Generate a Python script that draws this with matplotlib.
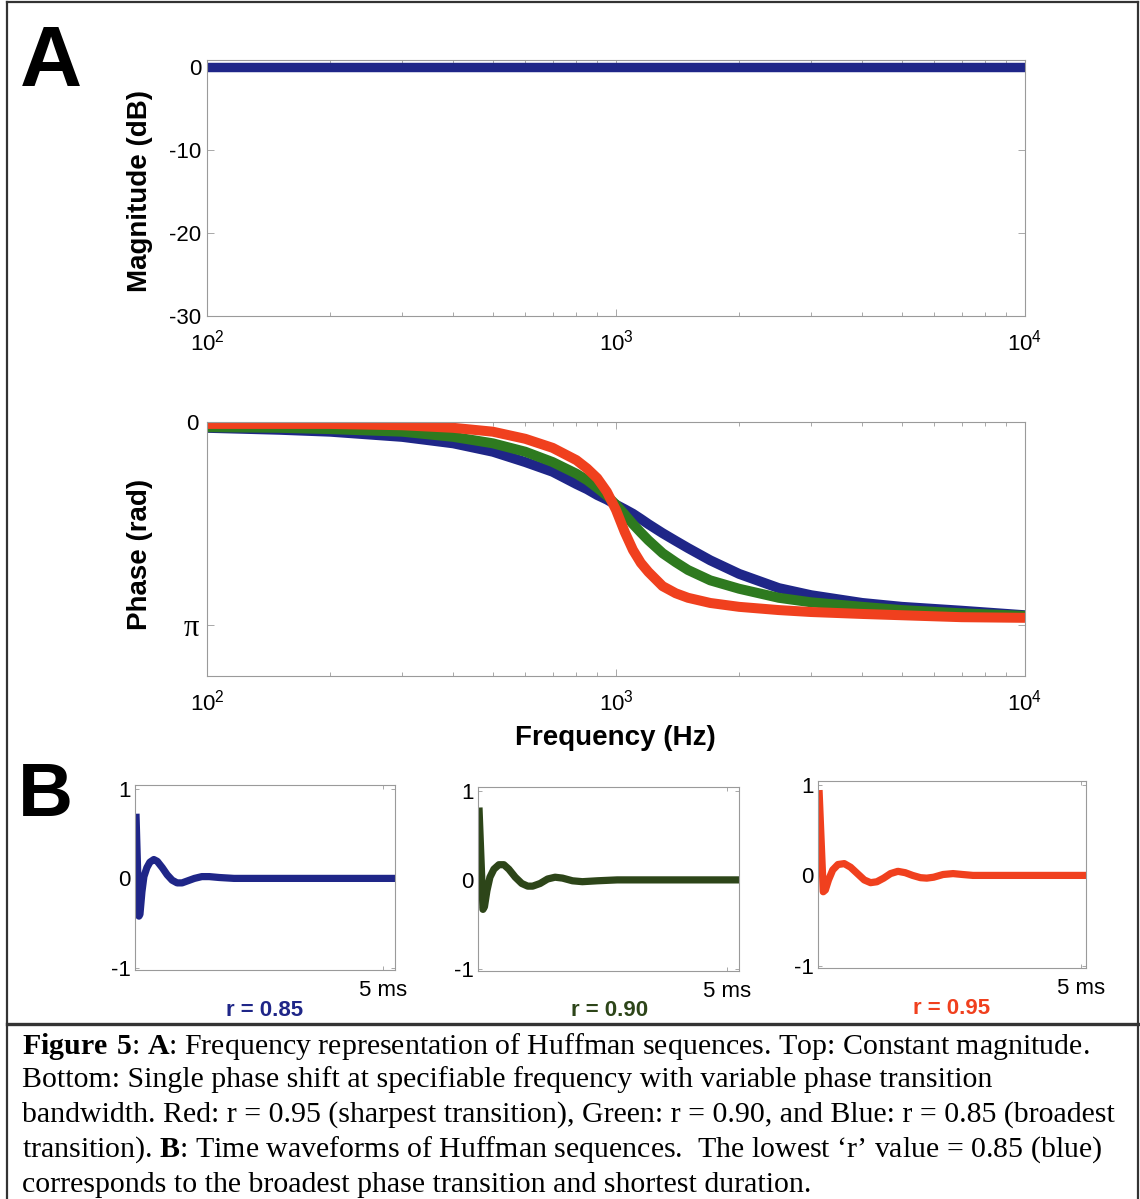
import matplotlib.pyplot as plt
from matplotlib.lines import Line2D

# --- data ---
freq_mag = [100, 10000]
mag_db = [0, 0]

freq = [100, 150, 200, 300, 400, 500, 600, 700, 800, 850, 900, 950, 1000, 1050,
        1100, 1150, 1200, 1300, 1400, 1500, 1700, 2000, 2500, 3000, 4000, 5000,
        7000, 10000]
phase_blue = [-0.09, -0.12, -0.15, -0.23, -0.33, -0.46, -0.62, -0.77, -0.96, -1.04,
              -1.13, -1.20, -1.28, -1.35, -1.42, -1.50, -1.58, -1.72, -1.84, -1.95,
              -2.14, -2.35, -2.57, -2.68, -2.80, -2.86, -2.92, -2.99]
phase_green = [-0.08, -0.09, -0.11, -0.15, -0.23, -0.33, -0.46, -0.62, -0.80, -0.90,
               -1.02, -1.14, -1.28, -1.43, -1.58, -1.71, -1.83, -2.03, -2.17, -2.29,
               -2.45, -2.58, -2.72, -2.79, -2.86, -2.91, -2.96, -3.00]
phase_red = [-0.03, -0.03, -0.03, -0.05, -0.09, -0.15, -0.26, -0.40, -0.59, -0.72,
             -0.87, -1.08, -1.36, -1.70, -1.98, -2.18, -2.32, -2.54, -2.65, -2.72,
             -2.80, -2.86, -2.91, -2.94, -2.97, -2.99, -3.02, -3.03]

t_blue = [0.02, 0.08, 0.10, 0.14, 0.18, 0.24, 0.30, 0.38, 0.45, 0.55, 0.65, 0.75,
          0.85, 0.95, 1.05, 1.20, 1.35, 1.50, 1.70, 2.0, 5.25]
w_blue = [0.72, -0.42, -0.40, -0.15, 0.02, 0.12, 0.18, 0.21, 0.19, 0.12, 0.04, -0.02,
          -0.05, -0.05, -0.03, 0.0, 0.02, 0.02, 0.01, 0.0, 0.0]

t_green = [0.02, 0.10, 0.13, 0.18, 0.24, 0.32, 0.42, 0.52, 0.62, 0.75, 0.88, 1.0,
           1.1, 1.25, 1.4, 1.55, 1.7, 1.9, 2.1, 2.4, 2.8, 5.25]
w_green = [0.81, -0.33, -0.30, -0.12, 0.03, 0.12, 0.17, 0.17, 0.12, 0.03, -0.04, -0.07,
           -0.07, -0.04, 0.01, 0.03, 0.02, -0.01, -0.02, -0.01, 0.0, 0.0]

t_red = [0.02, 0.10, 0.14, 0.20, 0.28, 0.38, 0.50, 0.62, 0.75, 0.88, 1.0, 1.12, 1.25,
         1.38, 1.52, 1.66, 1.80, 1.95, 2.07, 2.2, 2.38, 2.57, 2.75, 2.95, 5.1]
w_red = [0.94, -0.18, -0.16, -0.05, 0.06, 0.12, 0.13, 0.09, 0.02, -0.05, -0.08, -0.07,
         -0.03, 0.02, 0.045, 0.03, 0.0, -0.025, -0.03, -0.02, 0.01, 0.02, 0.01, 0.0, 0.0]

r_labels = ["r = 0.85", "r = 0.90", "r = 0.95"]

C_BLUE = "#1f2688"
C_GREEN = "#2e7a1f"
C_RED = "#f0401e"
C_DKGREEN = "#2d4519"
AX_GREY = "#9a9a9a"

plt.rcParams["font.family"] = ["Liberation Sans", "DejaVu Sans"]
plt.rcParams["mathtext.fontset"] = "custom"
plt.rcParams["mathtext.rm"] = "Liberation Sans"
plt.rcParams["mathtext.bf"] = "Liberation Serif:bold"

W, H = 1140, 1199
fig = plt.figure(figsize=(W / 100, H / 100), dpi=100)


def box(left, top, right, bottom):
    return [left / W, 1 - bottom / H, (right - left) / W, (bottom - top) / H]


def style_axes(ax, size=16):
    for s in ax.spines.values():
        s.set_color(AX_GREY)
        s.set_linewidth(0.8)
    ax.tick_params(which="both", direction="in", top=True, right=True,
                   color=AX_GREY, labelsize=size, width=0.6)
    ax.tick_params(which="major", length=5)
    ax.tick_params(which="minor", length=3)


# --- A: magnitude ---
ax_mag = fig.add_axes(box(207, 60, 1025, 316))
ax_mag.semilogx(freq_mag, mag_db, color=C_BLUE, lw=6.8, solid_capstyle="butt")
ax_mag.set_xlim(100, 10000)
ax_mag.set_ylim(-30, 0.8)
ax_mag.set_yticks([0, -10, -20, -30])
ax_mag.set_yticklabels(["0", "-10", "-20", "-30"])
ax_mag.set_xticks([100, 1000, 10000])
ax_mag.set_xticklabels([r"$10^{2}$", r"$10^{3}$", r"$10^{4}$"])
style_axes(ax_mag)
ax_mag.tick_params(axis="x", pad=10)
ax_mag.tick_params(axis="y", pad=4)

# --- A: phase ---
ax_ph = fig.add_axes(box(207, 422, 1025, 676))
ax_ph.semilogx(freq, phase_blue, color=C_BLUE, lw=7.2, solid_capstyle="butt")
ax_ph.semilogx(freq, phase_green, color=C_GREEN, lw=7.2, solid_capstyle="butt")
ax_ph.semilogx(freq, phase_red, color=C_RED, lw=7.2, solid_capstyle="butt")
ax_ph.set_xlim(100, 10000)
ax_ph.set_ylim(-3.93, 0)
ax_ph.set_yticks([-3.14159, 0])
ax_ph.set_yticklabels(["π", "0"])
ax_ph.set_xticks([100, 1000, 10000])
ax_ph.set_xticklabels([r"$10^{2}$", r"$10^{3}$", r"$10^{4}$"])
style_axes(ax_ph)
ax_ph.tick_params(axis="x", pad=10)
ax_ph.tick_params(axis="y", pad=6)
pi_lab = ax_ph.get_yticklabels()[0]
pi_lab.set_fontfamily("Liberation Serif")
pi_lab.set_fontsize(22)

fig.text(140 / W, 1 - 191 / H, "Magnitude (dB)", rotation=90, fontsize=20,
         fontweight="bold", ha="center", va="center")
fig.text(140 / W, 1 - 554 / H, "Phase (rad)", rotation=90, fontsize=20,
         fontweight="bold", ha="center", va="center")
fig.text(615 / W, 1 - 738 / H, "Frequency (Hz)", fontsize=20,
         fontweight="bold", ha="center", va="center")

# --- B: time waveforms ---
b_boxes = [box(135, 785, 395, 970), box(478, 787, 739, 971), box(818, 781, 1086, 968)]
b_series = [(t_blue, w_blue, C_BLUE), (t_green, w_green, C_DKGREEN), (t_red, w_red, C_RED)]
b_xmax = [5.25, 5.25, 5.1]
label_xy = [(265, 1010), (610, 1011), (952, 1008)]

for rect, (tt, ww, col), xmax, lab, (lx, ly) in zip(b_boxes, b_series, b_xmax, r_labels, label_xy):
    ax = fig.add_axes(rect)
    ax.plot(tt, ww, color=col, lw=5.2, solid_capstyle="butt", solid_joinstyle="round")
    ax.set_xlim(0, xmax)
    ax.set_ylim(-1.02, 1.04)
    ax.set_yticks([-1, 0, 1])
    ax.set_yticklabels(["-1", "0", "1"])
    ax.set_xticks([5])
    ax.set_xticklabels(["5 ms"])
    style_axes(ax)
    ax.tick_params(which="major", length=3)
    ax.tick_params(axis="y", pad=3)
    ax.tick_params(axis="x", pad=7)
    fig.text(lx / W, 1 - ly / H, lab, color=col, fontsize=16, fontweight="bold",
             ha="center", va="center")

# panel letters
fig.text(51 / W, 1 - 64 / H, "A", fontsize=62, fontweight="bold", ha="center", va="center")
fig.text(45 / W, 1 - 797 / H, "B", fontsize=55, fontweight="bold", ha="center", va="center")

# frame and caption separator
frame = dict(color="#333333", lw=1.6, transform=fig.transFigure)
fig.add_artist(Line2D([7 / W, 7 / W], [0, 1 - 2 / H], **frame))
fig.add_artist(Line2D([1138 / W, 1138 / W], [0, 1 - 2 / H], **frame))
fig.add_artist(Line2D([7 / W, 1138 / W], [1 - 2 / H, 1 - 2 / H], **frame))
fig.add_artist(Line2D([7 / W, 1138 / W], [1 - 1024 / H, 1 - 1024 / H],
                      color="#333333", lw=2.4, transform=fig.transFigure))

caption = [
    r"$\mathbf{Figure\ 5}$: $\mathbf{A}$: Frequency representation of Huffman sequences. Top: Constant magnitude.",
    "Bottom: Single phase shift at specifiable frequency with variable phase transition",
    "bandwidth. Red: r = 0.95 (sharpest transition), Green: r = 0.90, and Blue: r = 0.85 (broadest",
    r"transition). $\mathbf{B}$: Time waveforms of Huffman sequences.  The lowest ‘r’ value = 0.85 (blue)",
    "corresponds to the broadest phase transition and shortest duration.",
]
cap_y = [1046, 1080, 1115, 1150, 1185]
for line, y in zip(caption, cap_y):
    fig.text(22 / W, 1 - y / H, line, fontsize=21.5, family="Liberation Serif",
             ha="left", va="center")

fig.savefig("out.png", dpi=100)
